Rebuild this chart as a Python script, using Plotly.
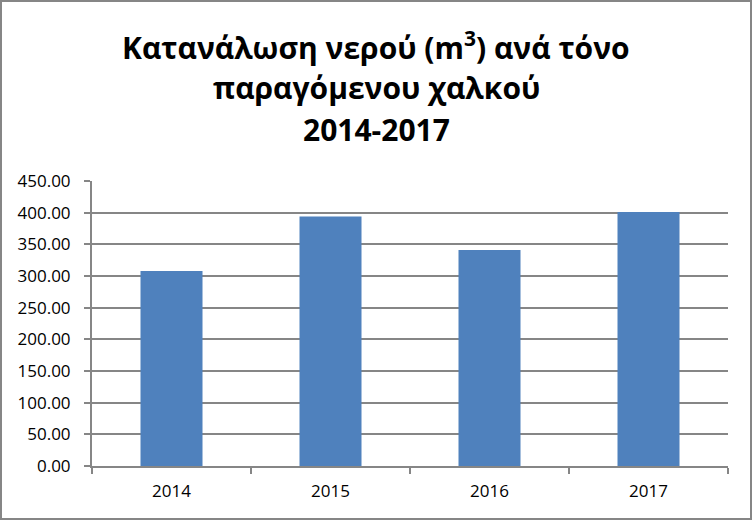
import plotly.graph_objects as go

years = ["2014", "2015", "2016", "2017"]
water_m3 = [308, 394, 341, 401]
y_ticks = [0, 50, 100, 150, 200, 250, 300, 350, 400, 450]

title_lines = ["Κατανάλωση νερού (m<sup>3</sup>) ανά τόνο", "παραγόμενου χαλκού", "2014-2017"]
FONT = "Open Sans"
GREY = "#868686"

W, H = 752, 520
L, R, T, B = 92, 24, 181, 54
PW, PH = W - L - R, H - T - B

fig = go.Figure()
fig.add_trace(go.Bar(
	x=years,
	y=water_m3,
	marker={'color': '#4f81bd', 'line': {'width': 0}},
	hoverinfo='x+y'
))

fig.update_layout(
	width=W,
	height=H,
	paper_bgcolor='white',
	plot_bgcolor='white',
	showlegend=False,
	bargap=0.61,
	margin={'l': L, 'r': R, 't': T, 'b': B},
	font={'family': FONT, 'size': 17, 'color': 'black'},
)

# title, one annotation per line so the spacing is like the original
for i, line in enumerate(title_lines):
	py = 46 + i * 41.5
	fig.add_annotation(
		text=line, showarrow=False,
		xref='paper', yref='paper',
		x=(376 - L) / PW, y=(H - B - py) / PH,
		xanchor='center', yanchor='middle',
		font={'family': FONT, 'size': 30, 'color': 'black', 'weight': 'bold'}
	)

fig.update_xaxes(
	type='category',
	showline=True,
	linecolor=GREY,
	linewidth=2,
	ticks='outside',
	tickson='boundaries',
	ticklen=6,
	tickcolor=GREY,
	tickwidth=2,
	showgrid=False,
	ticklabelstandoff=9,
)
fig.update_yaxes(
	range=[0, 450],
	tickvals=y_ticks,
	tickformat='.2f',
	showline=True,
	linecolor=GREY,
	linewidth=2,
	ticks='outside',
	ticklen=6,
	tickcolor=GREY,
	tickwidth=2,
	showgrid=True,
	gridcolor=GREY,
	gridwidth=2,
	zeroline=False,
	ticklabelstandoff=10,
)

# grey frame round the whole chart
fig.add_shape(type='rect', xref='paper', yref='paper',
	x0=(1 - L) / PW, x1=(W - 1 - L) / PW,
	y0=(H - B - (H - 1)) / PH, y1=(H - B - 1) / PH,
	line={'color': GREY, 'width': 2}, fillcolor='rgba(0,0,0,0)', layer='below')

fig.write_html("out.html", config={'displayModeBar': False},
	post_script="document.body.style.margin='0';")
